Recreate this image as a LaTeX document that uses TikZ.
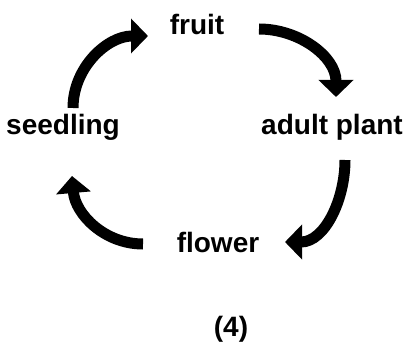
\documentclass[tikz,border=0pt]{standalone}
\usepackage{fontspec}
\setmainfont{Liberation Sans}
\usetikzlibrary{arrows.meta}

\begin{document}
\begin{tikzpicture}[x=1pt,y=-1pt,
  lbl/.style={font=\fontsize{28}{28}\selectfont\bfseries, anchor=base, inner sep=0pt},
  cyc/.style={line width=11pt, -{Triangle[width=34pt,length=17pt]}}]
  \useasboundingbox (0,0) rectangle (409,342);

  % ラベル
  \node[lbl] (fruit)    at (197,35)  {fruit};
  \node[lbl] (adult)    at (332,134) {adult plant};
  \node[lbl] (flower)   at (218,252) {flower};
  \node[lbl] (seedling) at (63,134)  {seedling};
  \node[lbl] (caption)  at (231,336) {(4)};

  % 矢印の端点
  \coordinate (s1) at (73,108);  \coordinate (f0) at (148,36);
  \coordinate (f1) at (259,29);  \coordinate (a0) at (336,97);
  \coordinate (a1) at (345,160); \coordinate (w0) at (285,242);
  \coordinate (w1) at (143,244); \coordinate (s0) at (72,176);

  % 循環の矢印
  \draw[cyc] (s1) to[out=90,in=180] (f0);
  \draw[cyc] (f1) to[out=0,in=90] (a0);
  \draw[cyc] (a1) to[out=-90,in=0] (w0);
  \draw[cyc] (w1) to[out=180,in=-85] (s0);
\end{tikzpicture}
\end{document}
